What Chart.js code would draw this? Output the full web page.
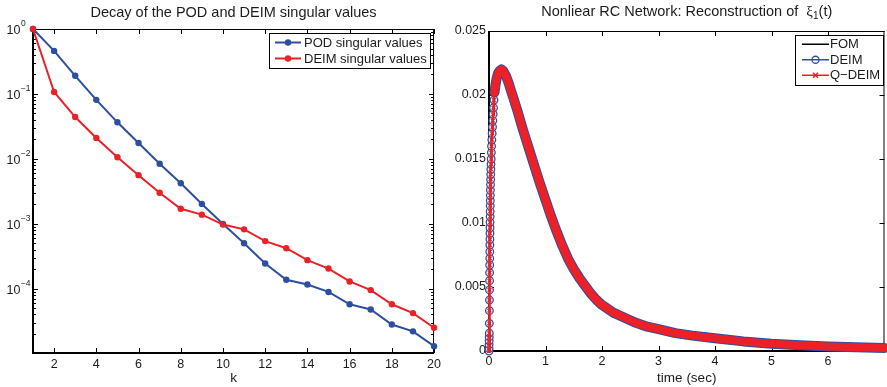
<!DOCTYPE html>
<html>
<head>
<meta charset="utf-8">
<script src="https://cdn.jsdelivr.net/npm/chart.js@4.4.1/dist/chart.umd.min.js"></script>
<style>
html, body { margin: 0; padding: 0; background: #fff; overflow: hidden; }
#wrap { position: relative; width: 887px; height: 387px; overflow: hidden; }
.panel { position: absolute; top: 0; width: 445px; height: 387px; }
#left { left: 0; }
#right { left: 445px; }
</style>
</head>
<body>
<div id="wrap">
  <div class="panel" id="left"><canvas id="svChart" width="445" height="387"></canvas></div>
  <div class="panel" id="right"><canvas id="rcChart" width="445" height="387"></canvas></div>
</div>
<script>
// left panel: singular value decay
const kIndex = [1, 2, 3, 4, 5, 6, 7, 8, 9, 10, 11, 12, 13, 14, 15, 16, 17, 18, 19, 20];
const podSingular = [1, 0.46, 0.19, 0.081, 0.0365, 0.0175, 0.0084, 0.0042, 0.00202, 0.00099,
                     0.0005, 0.000244, 0.000137, 0.000116, 8.9e-5, 5.75e-5, 4.77e-5, 2.8e-5, 2.2e-5, 1.3e-5];
const deimSingular = [1, 0.107, 0.044, 0.021, 0.0106, 0.0056, 0.003, 0.0017, 0.00138, 0.00097,
                      0.00082, 0.00054, 0.00042, 0.000275, 0.000204, 0.000129, 9.5e-5, 5.75e-5, 4.2e-5, 2.5e-5];
const kTicks = [2, 4, 6, 8, 10, 12, 14, 16, 18, 20];
const logTicks = [1, 1e-1, 1e-2, 1e-3, 1e-4];
const logExponents = ['0', '\u22121', '\u22122', '\u22123', '\u22124'];

// right panel: reconstruction of xi_1(t)
const timeSec = [
  0, 0.001, 0.002, 0.003, 0.004, 0.005,
  0.006, 0.007, 0.008, 0.009, 0.010, 0.011, 0.012, 0.013, 0.014, 0.015,
  0.016, 0.017, 0.018, 0.019, 0.020, 0.021, 0.022, 0.023, 0.024, 0.025,
  0.027, 0.029, 0.031, 0.033, 0.036, 0.039, 0.042, 0.045, 0.050, 0.056,
  0.062, 0.068, 0.074, 0.080, 0.088,
  0.098, 0.115, 0.135, 0.16, 0.19, 0.22, 0.25, 0.3, 0.35, 0.4,
  0.5, 0.6, 0.7, 0.8, 0.9, 1.0, 1.1, 1.2, 1.3, 1.4,
  1.5, 1.6, 1.7, 1.8, 1.9, 2.0, 2.2, 2.4, 2.6, 2.8,
  3.0, 3.3, 3.6, 4.0, 4.5, 5.0, 5.5, 6.0, 6.5, 7.0
];
const xi1 = [
  0, 0.0002, 0.0005, 0.0008, 0.0011, 0.0014,
  0.00216, 0.00315, 0.00398, 0.00477, 0.00549, 0.00612, 0.00672, 0.00724, 0.00776, 0.00828,
  0.00873, 0.0092, 0.00963, 0.01005, 0.0105, 0.0109, 0.01135, 0.01174, 0.01216, 0.01258,
  0.0130, 0.0134, 0.0138, 0.0142, 0.0146, 0.0150, 0.0155, 0.0160, 0.0165, 0.0170,
  0.0175, 0.0180, 0.0185, 0.0190, 0.0196,
  0.0202, 0.0208, 0.0213, 0.0217, 0.0219, 0.0220, 0.0219, 0.0215, 0.0209, 0.0202,
  0.0188, 0.0173, 0.0159, 0.0145, 0.0131, 0.0118, 0.0105, 0.0093, 0.0082, 0.0072,
  0.0064, 0.0057, 0.0051, 0.0045, 0.0040, 0.0036, 0.0030, 0.0026, 0.0022, 0.0019,
  0.0017, 0.0014, 0.0012, 0.0010, 0.00075, 0.00056, 0.00045, 0.00036, 0.00029, 0.00024
];
const timeTicks = [0, 1, 2, 3, 4, 5, 6];
const xiTicks = [0, 0.005, 0.01, 0.015, 0.02, 0.025];
const xiTickLabels = ['0', '0.005', '0.01', '0.015', '0.02', '0.025'];

const FONT = '"Liberation Sans", Arial, sans-serif';
const INK = '#1c1c1c';
const BLUE = '#2e4f9f';
const RED = '#ec2027';

Chart.defaults.font.family = FONT;
Chart.defaults.color = INK;

// matlab style box with inward ticks
const axisFrame = {
  id: 'axisFrame',
  beforeDatasetsDraw(chart, args, opts) {
    const {ctx, chartArea: a, scales: {x, y}} = chart;
    ctx.save();
    ctx.strokeStyle = '#000';
    ctx.lineWidth = 1;
    ctx.beginPath();
    x.ticks.forEach(t => {
      const px = Math.round(x.getPixelForValue(t.value)) + 0.5;
      ctx.moveTo(px, a.bottom); ctx.lineTo(px, a.bottom - 5);
      ctx.moveTo(px, a.top); ctx.lineTo(px, a.top + 5);
    });
    y.ticks.forEach(t => {
      const py = Math.round(y.getPixelForValue(t.value)) + 0.5;
      ctx.moveTo(a.left, py); ctx.lineTo(a.left + 5, py);
      ctx.moveTo(a.right, py); ctx.lineTo(a.right - 5, py);
    });
    (opts.minorY || []).forEach(v => {
      const py = Math.round(y.getPixelForValue(v)) + 0.5;
      ctx.moveTo(a.left, py); ctx.lineTo(a.left + 3, py);
      ctx.moveTo(a.right, py); ctx.lineTo(a.right - 3, py);
    });
    ctx.moveTo(a.left, a.top + 0.5); ctx.lineTo(a.right, a.top + 0.5);
    ctx.moveTo(a.right - 0.5, a.top); ctx.lineTo(a.right - 0.5, a.bottom);
    ctx.stroke();
    ctx.lineWidth = 2;
    ctx.beginPath();
    ctx.moveTo(a.left, a.top); ctx.lineTo(a.left, a.bottom); ctx.lineTo(a.right, a.bottom);
    ctx.stroke();
    ctx.restore();
  }
};

const panelTitle = {
  id: 'panelTitle',
  afterDraw(chart, args, opts) {
    const {ctx, chartArea: a} = chart;
    ctx.save();
    ctx.fillStyle = INK;
    ctx.textBaseline = 'middle';
    ctx.textAlign = 'left';
    let total = 0;
    const widths = opts.parts.map(p => {
      ctx.font = p.font;
      const w = ctx.measureText(p.text).width;
      total += w;
      return w;
    });
    let x = (a.left + a.right) / 2 - total / 2;
    opts.parts.forEach((p, i) => {
      ctx.font = p.font;
      ctx.fillText(p.text, x, opts.y + (p.dy || 0));
      x += widths[i];
    });
    ctx.restore();
  }
};

const powerLabels = {
  id: 'powerLabels',
  beforeDatasetsDraw(chart, args, opts) {
    const {ctx, scales: {y}} = chart;
    ctx.save();
    ctx.fillStyle = INK;
    ctx.textBaseline = 'middle';
    ctx.textAlign = 'left';
    logTicks.forEach((v, i) => {
      const py = y.getPixelForValue(v);
      ctx.font = '12.5px ' + FONT;
      ctx.fillText('10', opts.x, py + 2);
      const w = ctx.measureText('10').width;
      ctx.font = '8.5px ' + FONT;
      ctx.fillText(logExponents[i], opts.x + w + 0.5, py - 5);
    });
    ctx.restore();
  }
};

const boxLegend = {
  id: 'boxLegend',
  afterDatasetsDraw(chart, args, opts) {
    const {ctx, chartArea: a} = chart;
    const items = chart.data.datasets;
    ctx.save();
    ctx.font = opts.fontSize + 'px ' + FONT;
    const textW = Math.max(...items.map(d => ctx.measureText(d.label).width));
    const w = Math.round(opts.textX + textW + opts.padRight);
    const h = Math.round(opts.rowH * items.length + opts.padV * 2);
    const right = Math.round(a.right - opts.insetRight);
    const left = right - w;
    const top = Math.round(a.top + opts.insetTop);
    ctx.fillStyle = '#fff';
    ctx.fillRect(left, top, w, h);
    ctx.strokeStyle = '#000';
    ctx.lineWidth = 1;
    ctx.strokeRect(left + 0.5, top + 0.5, w, h);
    items.forEach((d, i) => {
      const cy = top + opts.padV + opts.rowH * (i + 0.5);
      const mx = left + (opts.lineX0 + opts.lineX1) / 2;
      ctx.strokeStyle = d.borderColor;
      ctx.fillStyle = d.borderColor;
      ctx.lineWidth = opts.lineWidth;
      ctx.beginPath();
      ctx.moveTo(left + opts.lineX0, cy);
      ctx.lineTo(left + opts.lineX1, cy);
      ctx.stroke();
      const m = opts.markers[i];
      if (m === 'dot') {
        ctx.beginPath(); ctx.arc(mx, cy, 3.2, 0, Math.PI * 2); ctx.fill();
      } else if (m === 'circle') {
        ctx.lineWidth = 1.3;
        ctx.beginPath(); ctx.arc(mx, cy, 3.5, 0, Math.PI * 2); ctx.stroke();
      } else if (m === 'cross') {
        ctx.lineWidth = 1.5;
        ctx.beginPath();
        ctx.moveTo(mx - 2.5, cy - 2.5); ctx.lineTo(mx + 2.5, cy + 2.5);
        ctx.moveTo(mx - 2.5, cy + 2.5); ctx.lineTo(mx + 2.5, cy - 2.5);
        ctx.stroke();
      }
      ctx.fillStyle = INK;
      ctx.textBaseline = 'middle';
      ctx.textAlign = 'left';
      ctx.fillText(d.label, left + opts.textX, cy + 0.5);
    });
    ctx.restore();
  }
};

const minorLog = [];
for (let e = -5; e < 0; e++) {
  for (let m = 2; m <= 9; m++) minorLog.push(m * Math.pow(10, e));
}

new Chart(document.getElementById('svChart'), {
  type: 'line',
  data: {
    datasets: [
      {
        label: 'POD singular values',
        data: kIndex.map((k, i) => ({x: k, y: podSingular[i]})),
        borderColor: BLUE, backgroundColor: BLUE,
        borderWidth: 2, pointRadius: 3.2, pointBorderWidth: 0,
        clip: false, order: 2
      },
      {
        label: 'DEIM singular values',
        data: kIndex.map((k, i) => ({x: k, y: deimSingular[i]})),
        borderColor: RED, backgroundColor: RED,
        borderWidth: 2, pointRadius: 3.2, pointBorderWidth: 0,
        clip: false, order: 1
      }
    ]
  },
  options: {
    responsive: false,
    animation: false,
    events: [],
    layout: {padding: {top: 29, right: 10, left: 0, bottom: 0}},
    plugins: {
      legend: {display: false},
      tooltip: {enabled: false},
      axisFrame: {minorY: minorLog},
      powerLabels: {x: 6.5},
      panelTitle: {y: 13, parts: [{text: 'Decay of the POD and DEIM singular values', font: '14.5px ' + FONT}]},
      boxLegend: {fontSize: 13, rowH: 16, padV: 1.5, textX: 35, padRight: 3, lineX0: 6, lineX1: 32,
                  insetRight: 4, insetTop: 4, lineWidth: 2, markers: ['dot', 'dot']}
    },
    scales: {
      x: {
        type: 'linear', min: 1, max: 20,
        grid: {display: false, drawTicks: false}, border: {display: false},
        afterBuildTicks: s => { s.ticks = kTicks.map(v => ({value: v})); },
        ticks: {font: {size: 12.5}, padding: 4, maxRotation: 0, autoSkip: false},
        title: {display: true, text: 'k', font: {size: 13.5}, padding: {top: 0, bottom: 1}},
        afterFit: s => { s.height = 34; }
      },
      y: {
        type: 'logarithmic', min: 1.02e-5, max: 1,
        grid: {display: false, drawTicks: false}, border: {display: false},
        afterBuildTicks: s => { s.ticks = logTicks.map(v => ({value: v})); },
        ticks: {display: false},
        afterFit: s => { s.width = 33; }
      }
    }
  },
  plugins: [axisFrame, powerLabels, panelTitle, boxLegend]
});

const thickFrom = 0.09;
const curve = timeSec.map((t, i) => ({x: t, y: xi1[i]}));

new Chart(document.getElementById('rcChart'), {
  type: 'line',
  data: {
    datasets: [
      {
        label: 'FOM', data: curve,
        borderColor: '#000', borderWidth: 1, pointRadius: 0,
        clip: false, order: 3
      },
      {
        label: 'DEIM', data: curve,
        borderColor: BLUE, borderWidth: 1.5,
        borderCapStyle: 'round', borderJoinStyle: 'round',
        segment: {borderWidth: c => timeSec[c.p0DataIndex] >= thickFrom ? 10 : 1.5},
        pointStyle: 'circle',
        pointRadius: c => timeSec[c.dataIndex] < thickFrom ? 3.8 : 0,
        pointBorderColor: BLUE, pointBackgroundColor: '#fff', pointBorderWidth: 1.3,
        clip: false, order: 2
      },
      {
        label: 'Q\u2212DEIM', data: curve,
        borderColor: RED, borderWidth: 2.5,
        borderCapStyle: 'round', borderJoinStyle: 'round',
        segment: {borderWidth: c => timeSec[c.p0DataIndex] >= thickFrom ? 8 : 2.5},
        pointStyle: 'crossRot',
        pointRadius: c => timeSec[c.dataIndex] < thickFrom ? 2.6 : 0,
        pointBorderColor: RED, pointBorderWidth: 1.5,
        clip: false, order: 1
      }
    ]
  },
  options: {
    responsive: false,
    animation: false,
    events: [],
    layout: {padding: {top: 31, right: 2, left: 0, bottom: 0}},
    plugins: {
      legend: {display: false},
      tooltip: {enabled: false},
      axisFrame: {},
      panelTitle: {y: 12, parts: [
        {text: 'Nonliear RC Network: Reconstruction of  ', font: '14.5px ' + FONT},
        {text: '\u03BE', font: '15px "Liberation Serif", serif'},
        {text: '1', font: '10px ' + FONT, dy: 4},
        {text: '(t)', font: '14.5px ' + FONT}
      ]},
      boxLegend: {fontSize: 13, rowH: 15.5, padV: 1.5, textX: 35, padRight: 3, lineX0: 7, lineX1: 34,
                  insetRight: 2, insetTop: 4, lineWidth: 1.5, markers: ['none', 'circle', 'cross']}
    },
    scales: {
      x: {
        type: 'linear', min: 0, max: 7,
        grid: {display: false, drawTicks: false}, border: {display: false},
        afterBuildTicks: s => { s.ticks = timeTicks.map(v => ({value: v})); },
        ticks: {font: {size: 12.5}, padding: 3, maxRotation: 0, autoSkip: false},
        title: {display: true, text: 'time (sec)', font: {size: 13.5}, padding: {top: 0, bottom: 1}},
        afterFit: s => { s.height = 36; }
      },
      y: {
        type: 'linear', min: 0, max: 0.025,
        grid: {display: false, drawTicks: false}, border: {display: false},
        afterBuildTicks: s => { s.ticks = xiTicks.map(v => ({value: v})); },
        ticks: {font: {size: 12.5}, padding: 3, callback: (v, i) => xiTickLabels[i]},
        afterFit: s => { s.width = 44; }
      }
    }
  },
  plugins: [axisFrame, panelTitle, boxLegend]
});
</script>
</body>
</html>
